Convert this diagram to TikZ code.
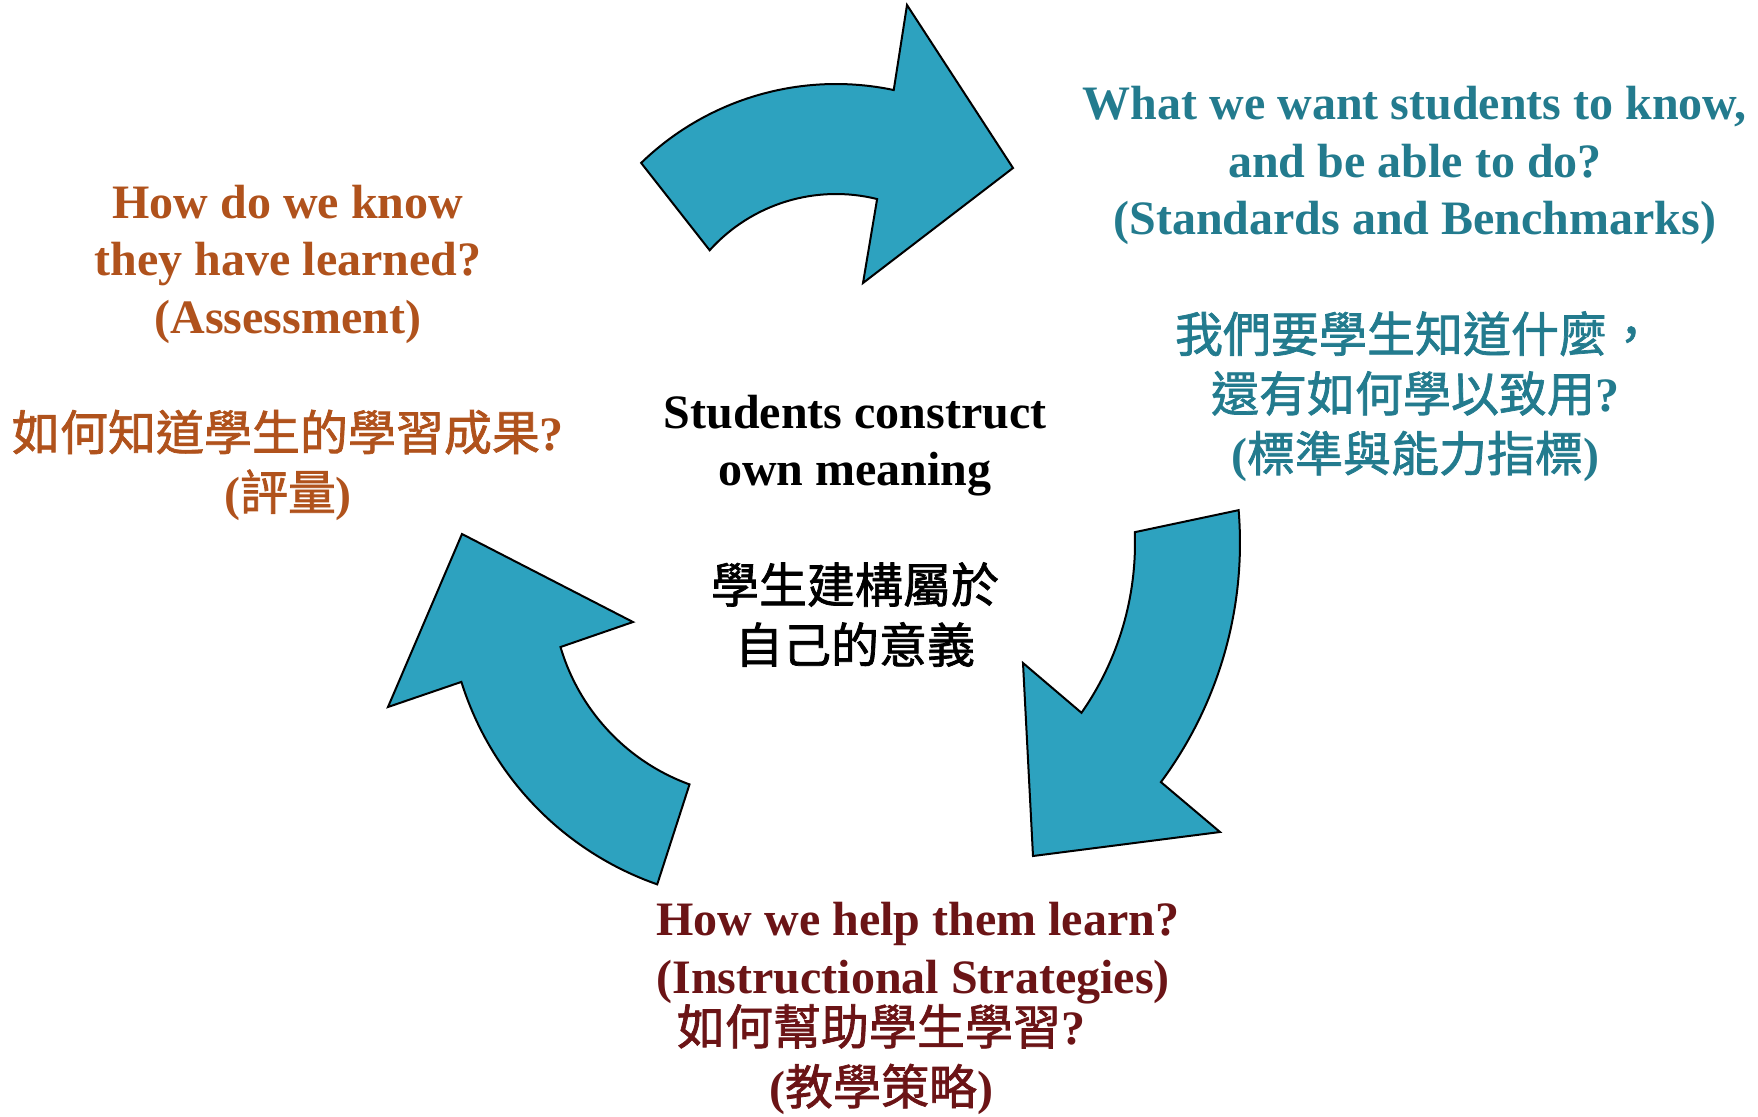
\documentclass[tikz,border=0pt]{standalone}
\usepackage{fontspec}
\setmainfont{Liberation Serif}
\newfontfamily\cjk[FakeBold=1.5]{Noto Sans CJK TC}
\newcommand{\zh}[1]{{\cjk\mdseries #1}}
\definecolor{cyclefill}{RGB}{45,162,191}
\definecolor{goalcol}{RGB}{35,123,142}
\definecolor{assesscol}{RGB}{176,82,28}
\definecolor{teachcol}{RGB}{107,20,22}

\begin{document}
\begin{tikzpicture}[x=0.5pt,y=-0.5pt,
    turn/.style={fill=cyclefill,draw=black,line width=1pt},
    txt/.style={font=\fontsize{24}{28.75}\selectfont\bfseries,align=center,inner sep=0pt}]
  \useasboundingbox (0,0) rectangle (1758,1116);
  % centres of the three curved arrows
  \coordinate (ctop) at (836,364);
  \coordinate (cright) at (839,543);
  \coordinate (cleft) at (761,588);
  % top arrow, pointing right
  \draw[turn] ([shift={(225.9:280)}]ctop) arc[start angle=225.9,end angle=281.9,radius=280]
    -- (907,5) -- (1013,168) -- (863,283) -- ([shift={(284:170)}]ctop)
    arc[start angle=284,end angle=222,radius=170] -- cycle;
  % right arrow, pointing down
  \draw[turn] ([shift={(-4.7:401)}]cright) arc[start angle=-4.7,end angle=36.6,radius=401]
    -- (1220,832) -- (1033,856) -- (1023,663) -- ([shift={(35:296)}]cright)
    arc[start angle=35,end angle=-2.1,radius=296] -- cycle;
  % left arrow, pointing up
  \draw[turn] ([shift={(109.3:314)}]cleft) arc[start angle=109.3,end angle=162.6,radius=314]
    -- (388,707) -- (462,534) -- (633,622) -- ([shift={(163.6:209)}]cleft)
    arc[start angle=163.6,end angle=110,radius=209] -- cycle;
  % the four texts
  \node[txt,text=goalcol] (goal) at (1415,284) {\strut What we want students to know,\\
    \strut and be able to do?\\ \strut (Standards and Benchmarks)\\ \strut\\
    \strut\zh{我們要學生知道什麼，}\\ \strut\zh{還有如何學以致用}?\\ \strut(\zh{標準與能力指標})};
  \node[txt,text=assesscol] (assess) at (288,352.5) {\strut How do we know\\
    \strut they have learned?\\ \strut (Assessment)\\ \strut\\
    \strut\zh{如何知道學生的學習成果}?\\ \strut(\zh{評量})};
  \node[txt] (meaning) at (855,534) {\strut Students construct\\ \strut own meaning\\ \strut\\
    \strut\zh{學生建構屬於}\\ \strut\zh{自己的意義}};
  \node[txt,align=left,anchor=west,text=teachcol] (help) at (656,953) {\strut How we help them learn?\\
    \strut (Instructional Strategies)};
  \node[txt,text=teachcol] (helpzh) at (881,1063) {\strut\zh{如何幫助學生學習}?\\ \strut(\zh{教學策略})};
\end{tikzpicture}
\end{document}
